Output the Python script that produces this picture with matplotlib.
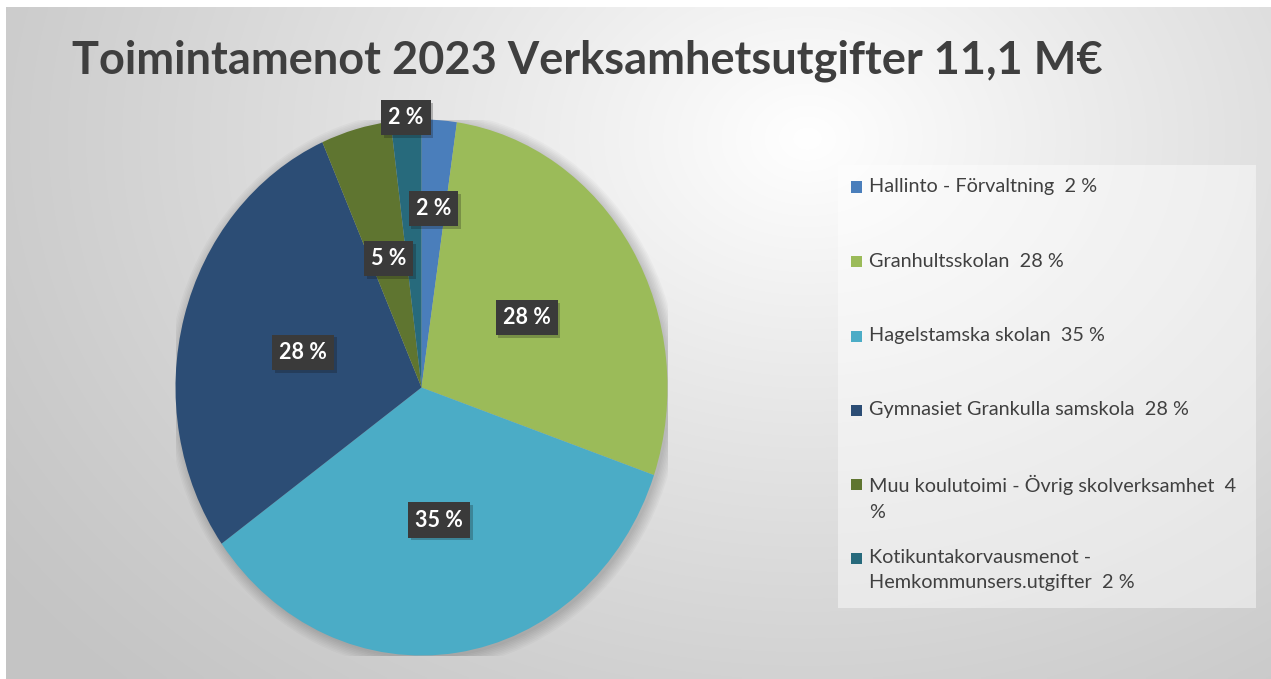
import numpy as np
import matplotlib.pyplot as plt
from matplotlib.patches import Rectangle, Ellipse
import matplotlib.patheffects as pe

# data
categories = ["Hallinto - Förvaltning  2 %",
              "Granhultsskolan  28 %",
              "Hagelstamska skolan  35 %",
              "Gymnasiet Grankulla samskola  28 %",
              "Muu koulutoimi - Övrig skolverksamhet  4\n%",
              "Kotikuntakorvausmenot -\nHemkommunsers.utgifter  2 %"]
shares = [2.3, 28.0, 34.8, 28.3, 4.6, 2.0]
pct_labels = ["2 %", "28 %", "35 %", "28 %", "5 %", "2 %"]
colors = ["#4a7ebb", "#9bbb59", "#4bacc6", "#2c4d75", "#5f7530", "#276a7c"]
label_r = [0.67, 0.5, 0.5, 0.5, 0.5, 1.01]

W, H = 1271, 679
fig = plt.figure(figsize=(W / 100, H / 100), dpi=100)
fig.patch.set_facecolor("white")

# gradient background
bg = fig.add_axes([6 / W, 0, (W - 6) / W, (H - 7) / H])
yy, xx = np.mgrid[0:200, 0:400]
xx = xx / 400 * (W - 6)
yy = yy / 200 * (H - 7)
d = np.hypot((xx - 800) / 1.0, (yy - 130) * 1.3)
v = np.clip(1 - d / 1000, 0, 1)
g = 0.77 + 0.23 * v ** 1.2
bg.imshow(np.dstack([g, g, g]), extent=[0, 1, 0, 1], aspect="auto", interpolation="bilinear")
bg.set_axis_off()

# pie, slightly taller than wide like the original
cx, cy, rx, ry = 421.5, 387.5, 246, 268
ax = fig.add_axes([(cx - rx) / W, (H - cy - ry) / H, 2 * rx / W, 2 * ry / H])
# soft shadow behind the pie
for k in range(8):
    ax.add_patch(Ellipse((0.01, -0.01), 2 + 0.012 * k, 2 + 0.012 * k, facecolor="black",
                         alpha=0.025, edgecolor="none", zorder=0))
wedges, _ = ax.pie(shares, colors=colors, startangle=90, counterclock=False,
                   wedgeprops=dict(linewidth=0, zorder=1))
ax.set_aspect("auto")
ax.set_xlim(-1, 1)
ax.set_ylim(-1, 1)
ax.set_axis_off()

cum = np.cumsum([0] + shares)
for i, lab in enumerate(pct_labels):
    mid = (cum[i] + cum[i + 1]) / 2 / sum(shares) * 2 * np.pi
    x = label_r[i] * np.sin(mid)
    y = label_r[i] * np.cos(mid)
    t = ax.text(x, y, lab, ha="center", va="center", color="white", fontsize=15.5,
                fontweight="bold", family="Lato", clip_on=False, zorder=5,
                bbox=dict(boxstyle="square,pad=0.33", facecolor="#3a3a3a", edgecolor="none"))
    t.get_bbox_patch().set_path_effects([pe.SimplePatchShadow(offset=(2, -2), alpha=0.25), pe.Normal()])

fig.text(0.5 * (72 + 1103) / W, 1 - 61 / H, "Toimintamenot 2023 Verksamhetsutgifter 11,1 M€",
         ha="center", va="center", fontsize=32.5, fontweight="bold", family="Lato",
         color="#3f3f3f")

# legend box
fig.patches.append(Rectangle((838 / W, 1 - 608 / H), (1256 - 838) / W, (608 - 165) / H,
                             transform=fig.transFigure, facecolor="white", alpha=0.45,
                             edgecolor="none"))
leg_y = [187, 262, 336, 410, 484, 558]
for i, lab in enumerate(categories):
    y = 1 - leg_y[i] / H
    fig.patches.append(Rectangle((851 / W, y - 5.5 / H), 11 / W, 11 / H,
                                 transform=fig.transFigure, facecolor=colors[i], edgecolor="none"))
    fig.text(869 / W, y + 9 / H, lab, ha="left", va="top", fontsize=14.3, family="Lato",
             color="#404040", linespacing=1.6)

fig.savefig("out.png", dpi=100)
